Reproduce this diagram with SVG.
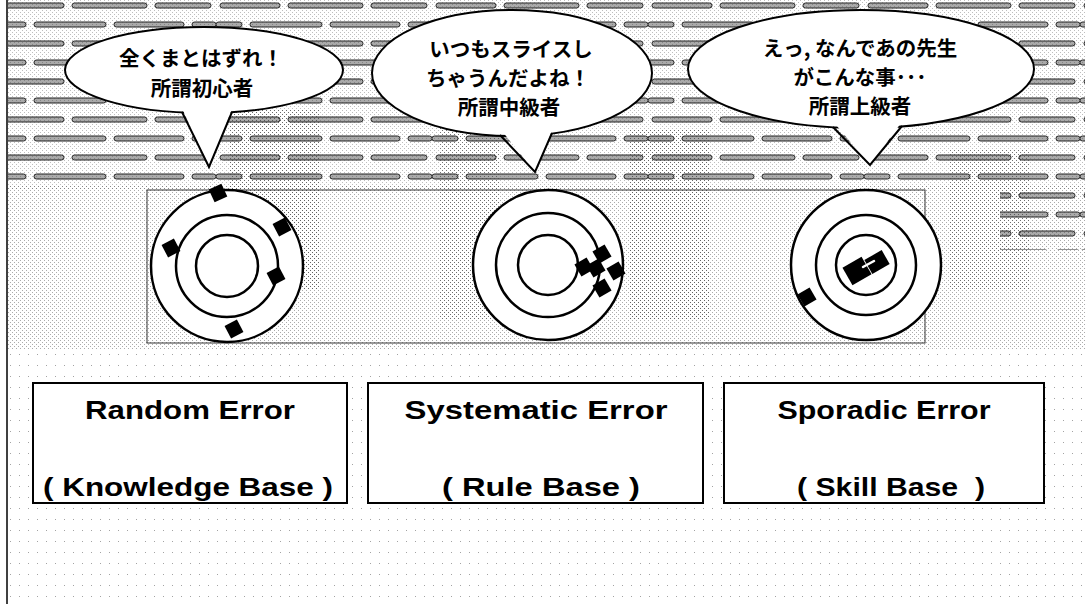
<svg xmlns="http://www.w3.org/2000/svg" width="1085" height="604" viewBox="0 0 1085 604">
<style>
.bub{fill:#fff;stroke:#000;stroke-width:2}
.tail{fill:none;stroke:#000;stroke-width:2;stroke-linejoin:miter}
.jp{font-family:"Noto Sans CJK JP","Noto Sans CJK SC",sans-serif;font-weight:bold;font-size:20.5px;fill:#000;text-anchor:middle}
.ring{fill:none;stroke:#000;stroke-width:2.5}
.disc{fill:#fff;stroke:#000;stroke-width:2.5}
.hit{fill:#000}
.box{fill:#fff;stroke:#000;stroke-width:2}
.lbl{font-family:"Liberation Sans",Arial,sans-serif;font-weight:bold;font-size:26px;fill:#000;text-anchor:middle}
</style>
<defs>
<pattern id="bricks" width="216" height="38" patternUnits="userSpaceOnUse">
<rect x="4" y="3" width="60" height="5" rx="2.5" fill="#aaa" stroke="#222" stroke-width="1"/>
<rect x="72" y="3" width="75" height="5" rx="2.5" fill="#aaa" stroke="#222" stroke-width="1"/>
<rect x="155" y="3" width="56" height="5" rx="2.5" fill="#aaa" stroke="#222" stroke-width="1"/>
<rect x="0" y="22" width="26" height="5" rx="2.5" fill="#aaa" stroke="#222" stroke-width="1"/>
<rect x="34" y="22" width="72" height="5" rx="2.5" fill="#aaa" stroke="#222" stroke-width="1"/>
<rect x="114" y="22" width="70" height="5" rx="2.5" fill="#aaa" stroke="#222" stroke-width="1"/>
<rect x="192" y="22" width="24" height="5" rx="2.5" fill="#aaa" stroke="#222" stroke-width="1"/>
</pattern>
<pattern id="dith" width="4" height="4" patternUnits="userSpaceOnUse">
<rect x="0" y="0" width="1" height="1" fill="#444"/>
<rect x="2" y="2" width="1" height="1" fill="#444"/>
</pattern>
<pattern id="sparse" width="9" height="11" patternUnits="userSpaceOnUse">
<rect x="1" y="2" width="1" height="1" fill="#666"/>
</pattern>
</defs>

<rect x="0" y="0" width="1085" height="604" fill="#fff"/>
<g id="background">
<rect x="8" y="0" width="1077" height="190" fill="url(#bricks)"/>
<rect x="1000" y="190" width="85" height="60" fill="url(#bricks)"/>
<rect x="8" y="0" width="1077" height="190" fill="url(#dith)" opacity="0.35"/>
<rect x="8" y="185" width="1077" height="165" fill="url(#dith)" opacity="0.45"/>
<rect x="230" y="110" width="90" height="180" fill="url(#dith)" opacity="0.7"/>
<rect x="440" y="120" width="60" height="200" fill="url(#dith)" opacity="0.6"/>
<rect x="630" y="130" width="80" height="190" fill="url(#dith)" opacity="0.7"/>
<rect x="950" y="150" width="80" height="140" fill="url(#dith)" opacity="0.6"/>
<rect x="8" y="350" width="1077" height="254" fill="url(#sparse)" opacity="0.6"/>
<rect x="147" y="190" width="778" height="153" fill="none" stroke="#333" stroke-width="1"/>
<line x1="7" y1="0" x2="7" y2="604" stroke="#000" stroke-width="1.5"/>
</g>

<g id="bubble1">
<ellipse class="bub" cx="204" cy="70" rx="139" ry="43"/>
<polygon points="180,104 209,167 234,104" fill="#fff"/>
<polyline class="tail" points="182,112 209,167 232,112"/>
<text class="jp" x="201" y="66">全くまとはずれ！</text>
<text class="jp" x="202" y="96">所謂初心者</text>
</g>

<g id="bubble2">
<ellipse class="bub" cx="512" cy="73" rx="140" ry="63"/>
<polygon points="498,126 535,172 554,126" fill="#fff"/>
<polyline class="tail" points="500,135 535,172 552,133"/>
<text class="jp" x="511" y="57">いつもスライスし</text>
<text class="jp" x="508" y="86">ちゃうんだよね！</text>
<text class="jp" x="509" y="115">所謂中級者</text>
</g>

<g id="bubble3">
<ellipse class="bub" cx="861" cy="69" rx="173" ry="59"/>
<polygon points="831,119 870,165 904,119" fill="#fff"/>
<polyline class="tail" points="833,127 870,165 902,126"/>
<text class="jp" x="860" y="56">えっ, なんであの先生</text>
<text class="jp" x="860" y="85">がこんな事･･･</text>
<text class="jp" x="860" y="114">所謂上級者</text>
</g>

<g id="target1">
<circle class="disc" cx="227" cy="266" r="76"/>
<circle class="ring" cx="227" cy="266" r="51"/>
<circle class="ring" cx="227" cy="266" r="31"/>
<rect class="hit" x="-7" y="-7" width="14" height="14" transform="translate(218,193) rotate(-25)"/>
<rect class="hit" x="-7" y="-7" width="14" height="14" transform="translate(282,227) rotate(-28)"/>
<rect class="hit" x="-7" y="-7" width="14" height="14" transform="translate(171,248) rotate(-28)"/>
<rect class="hit" x="-7" y="-7" width="14" height="14" transform="translate(276,276) rotate(-28)"/>
<rect class="hit" x="-7" y="-7" width="14" height="14" transform="translate(234,329) rotate(-28)"/>
</g>

<g id="target2">
<circle class="disc" cx="548" cy="265" r="75"/>
<circle class="ring" cx="548" cy="265" r="52"/>
<circle class="ring" cx="548" cy="265" r="30"/>
<rect class="hit" x="-7" y="-7" width="14" height="14" transform="translate(584,267) rotate(-30)"/>
<rect class="hit" x="-7" y="-7" width="14" height="14" transform="translate(596,268) rotate(-30)"/>
<rect class="hit" x="-7" y="-7" width="14" height="14" transform="translate(602,254) rotate(-30)"/>
<rect class="hit" x="-7" y="-7" width="14" height="14" transform="translate(616,271) rotate(-30)"/>
<rect class="hit" x="-7" y="-7" width="14" height="14" transform="translate(602,288) rotate(-30)"/>
</g>

<g id="target3">
<circle class="disc" cx="866" cy="265" r="75"/>
<circle class="ring" cx="866" cy="265" r="50"/>
<circle class="ring" cx="866" cy="265" r="30"/>
<rect class="hit" x="-7" y="-7" width="14" height="14" transform="translate(807,297) rotate(-30)"/>
<rect class="hit" x="-11" y="-10" width="22" height="20" transform="translate(857,271) rotate(-30)"/>
<rect class="hit" x="-10" y="-8" width="20" height="16" transform="translate(877,262) rotate(-30)"/>
<line x1="863" y1="267" x2="874" y2="261" stroke="#fff" stroke-width="2.5" stroke-linecap="round"/>
</g>

<g id="box1">
<rect class="box" x="33" y="383" width="314" height="120"/>
<text class="lbl" x="190" y="419" textLength="210" lengthAdjust="spacingAndGlyphs">Random Error</text>
<text class="lbl" x="188" y="496" textLength="290" lengthAdjust="spacingAndGlyphs" xml:space="preserve">( Knowledge Base )</text>
</g>

<g id="box2">
<rect class="box" x="368" y="383" width="335" height="120"/>
<text class="lbl" x="536" y="419" textLength="263" lengthAdjust="spacingAndGlyphs">Systematic Error</text>
<text class="lbl" x="541" y="496" textLength="198" lengthAdjust="spacingAndGlyphs" xml:space="preserve">( Rule Base )</text>
</g>

<g id="box3">
<rect class="box" x="724" y="383" width="320" height="120"/>
<text class="lbl" x="884" y="419" textLength="213" lengthAdjust="spacingAndGlyphs">Sporadic Error</text>
<text class="lbl" x="891" y="496" textLength="188" lengthAdjust="spacingAndGlyphs" xml:space="preserve">( Skill Base  )</text>
</g>
</svg>
